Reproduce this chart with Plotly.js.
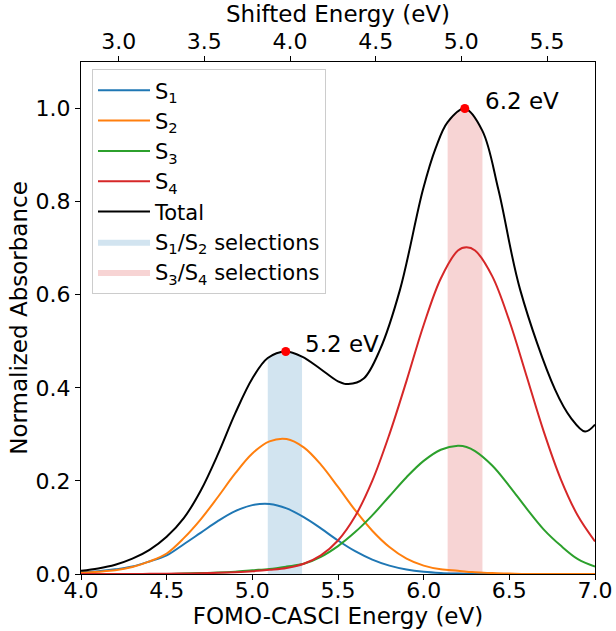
<!DOCTYPE html>
<html>
<head>
<meta charset="utf-8">
<script src="https://cdn.plot.ly/plotly-3.0.1.min.js"></script>
<style>html,body{margin:0;padding:0;background:#fff;}#chart{width:616px;height:631px;}</style>
</head>
<body>
<div id="chart"></div>
<script>
// Energy grid (eV) for the state curves
const energy = [4.0,4.1,4.2,4.3,4.4,4.5,4.6,4.7,4.8,4.9,5.0,5.1,5.2,5.3,5.4,5.5,5.6,5.7,5.8,5.9,6.0,6.1,6.2,6.25,6.3,6.4,6.5,6.6,6.7,6.8,6.9,7.0];
const s1 = [0.004,0.006,0.010,0.016,0.027,0.040,0.064,0.089,0.114,0.135,0.148,0.1505,0.141,0.122,0.098,0.072,0.049,0.031,0.018,0.0097,0.0048,0.0022,0.0009,0.0005,0.0003,0,0,0,0,0,0,0];
const s2 = [0.003,0.005,0.008,0.015,0.027,0.044,0.077,0.118,0.166,0.216,0.259,0.285,0.290,0.272,0.235,0.187,0.137,0.093,0.058,0.033,0.018,0.010,0.007,0.005,0.004,0.002,0.001,0,0,0,0,0];
const s3 = [0,0,0,0,0,0,0.001,0.002,0.003,0.005,0.008,0.011,0.016,0.022,0.037,0.060,0.090,0.126,0.167,0.208,0.243,0.267,0.2755,0.273,0.264,0.233,0.189,0.141,0.096,0.061,0.032,0.016];
const s4 = [0,0,0,0,0.0003,0.0005,0.001,0.0015,0.0025,0.004,0.006,0.009,0.013,0.022,0.040,0.072,0.124,0.200,0.300,0.415,0.535,0.635,0.695,0.702,0.695,0.640,0.544,0.426,0.307,0.204,0.125,0.070];
// Total spectrum
const totalE = [4.0,4.1,4.2,4.3,4.4,4.5,4.6,4.7,4.8,4.9,5.0,5.09,5.195,5.29,5.4,5.5,5.56,5.65,5.745,5.862,5.996,6.07,6.14,6.24,6.343,6.436,6.563,6.767,6.86,6.942,7.0];
const total  = [0.007,0.012,0.020,0.033,0.052,0.080,0.120,0.180,0.258,0.345,0.420,0.464,0.478,0.467,0.440,0.414,0.408,0.420,0.482,0.611,0.826,0.915,0.971,1.000,0.952,0.826,0.611,0.396,0.335,0.306,0.321];
// Selection windows: x and upper edge (on the total curve)
const sel1E = [5.09,5.195,5.29];
const sel1Y = [0.464,0.478,0.467];
const sel2E = [6.14,6.24,6.343];
const sel2Y = [0.971,1.000,0.952];
// Peaks
const peakE = [5.195,6.24];
const peakY = [0.478,1.0];
const peakLabels = ["5.2 eV","6.2 eV"];
// Axis ranges
const xRange = [4.0,7.0];
const shiftedRange = [2.78,5.78];

const F = "DejaVu Sans, Arial, sans-serif";
const traces = [
  {x:sel1E,y:sel1Y,type:"scatter",mode:"lines",fill:"tozeroy",fillcolor:"rgba(31,119,180,0.2)",line:{width:0,shape:"spline"},name:"S<sub>1</sub>/S<sub>2</sub> selections",legendrank:6,hoverinfo:"skip"},
  {x:sel2E,y:sel2Y,type:"scatter",mode:"lines",fill:"tozeroy",fillcolor:"rgba(214,39,40,0.2)",line:{width:0,shape:"spline"},name:"S<sub>3</sub>/S<sub>4</sub> selections",legendrank:7,hoverinfo:"skip"},
  {x:energy,y:s1,type:"scatter",mode:"lines",line:{color:"#1f77b4",width:2,shape:"spline"},name:"S<sub>1</sub>",legendrank:1},
  {x:energy,y:s2,type:"scatter",mode:"lines",line:{color:"#ff7f0e",width:2,shape:"spline"},name:"S<sub>2</sub>",legendrank:2},
  {x:energy,y:s3,type:"scatter",mode:"lines",line:{color:"#2ca02c",width:2,shape:"spline"},name:"S<sub>3</sub>",legendrank:3},
  {x:energy,y:s4,type:"scatter",mode:"lines",line:{color:"#d62728",width:2,shape:"spline"},name:"S<sub>4</sub>",legendrank:4},
  {x:totalE,y:total,type:"scatter",mode:"lines",line:{color:"#000000",width:2,shape:"spline"},name:"Total",legendrank:5},
  {x:peakE,y:peakY,type:"scatter",mode:"markers",marker:{color:"#ff0000",size:9},showlegend:false},
  {x:[],y:[],xaxis:"x2",type:"scatter",mode:"lines",showlegend:false,hoverinfo:"skip"}
];

const layout = {
  width:616,height:631,
  margin:{l:81,r:21,t:62,b:57},
  paper_bgcolor:"#fff",plot_bgcolor:"#fff",
  font:{family:F,size:22,color:"#000"},
  showlegend:true,
  legend:{x:0.0214,y:0.986,xanchor:"left",yanchor:"top",itemwidth:52,bgcolor:"rgba(255,255,255,0.8)",bordercolor:"#cccccc",borderwidth:1,font:{family:F,size:21,color:"#000"}},
  xaxis:{range:xRange,dtick:0.5,tick0:4,tickformat:".1f",ticks:"outside",ticklen:5,tickwidth:1,tickcolor:"#000",showline:true,linecolor:"#000",linewidth:1.2,mirror:false,showgrid:false,zeroline:false,ticklabelstandoff:-9,
    tickfont:{family:F,size:22},title:{text:"FOMO-CASCI Energy (eV)",font:{family:F,size:23},standoff:0}},
  xaxis2:{overlaying:"x",side:"top",anchor:"y",range:shiftedRange,dtick:0.5,tick0:3,tickformat:".1f",ticks:"outside",ticklen:5,tickwidth:1,tickcolor:"#000",showline:true,linecolor:"#000",linewidth:1.2,showgrid:false,zeroline:false,ticklabelstandoff:-2,
    tickfont:{family:F,size:22},title:{text:"Shifted Energy (eV)",font:{family:F,size:23},standoff:0}},
  yaxis:{range:[0,1.1],dtick:0.2,tick0:0,tickformat:".1f",ticks:"outside",ticklen:5,tickwidth:1,tickcolor:"#000",showline:true,linecolor:"#000",linewidth:1.2,mirror:true,showgrid:false,zeroline:false,
    tickfont:{family:F,size:22},title:{text:"Normalized Absorbance",font:{family:F,size:23},standoff:1}},
  annotations:[
    {x:peakE[0],y:peakY[0],xref:"x",yref:"y",text:peakLabels[0],showarrow:false,xanchor:"left",yanchor:"middle",xshift:17,yshift:8,font:{family:F,size:23,color:"#000"}},
    {x:peakE[1],y:peakY[1],xref:"x",yref:"y",text:peakLabels[1],showarrow:false,xanchor:"left",yanchor:"middle",xshift:18,yshift:8,font:{family:F,size:23,color:"#000"}}
  ]
};
Plotly.newPlot("chart",traces,layout,{displayModeBar:false,staticPlot:true});
</script>
</body>
</html>
